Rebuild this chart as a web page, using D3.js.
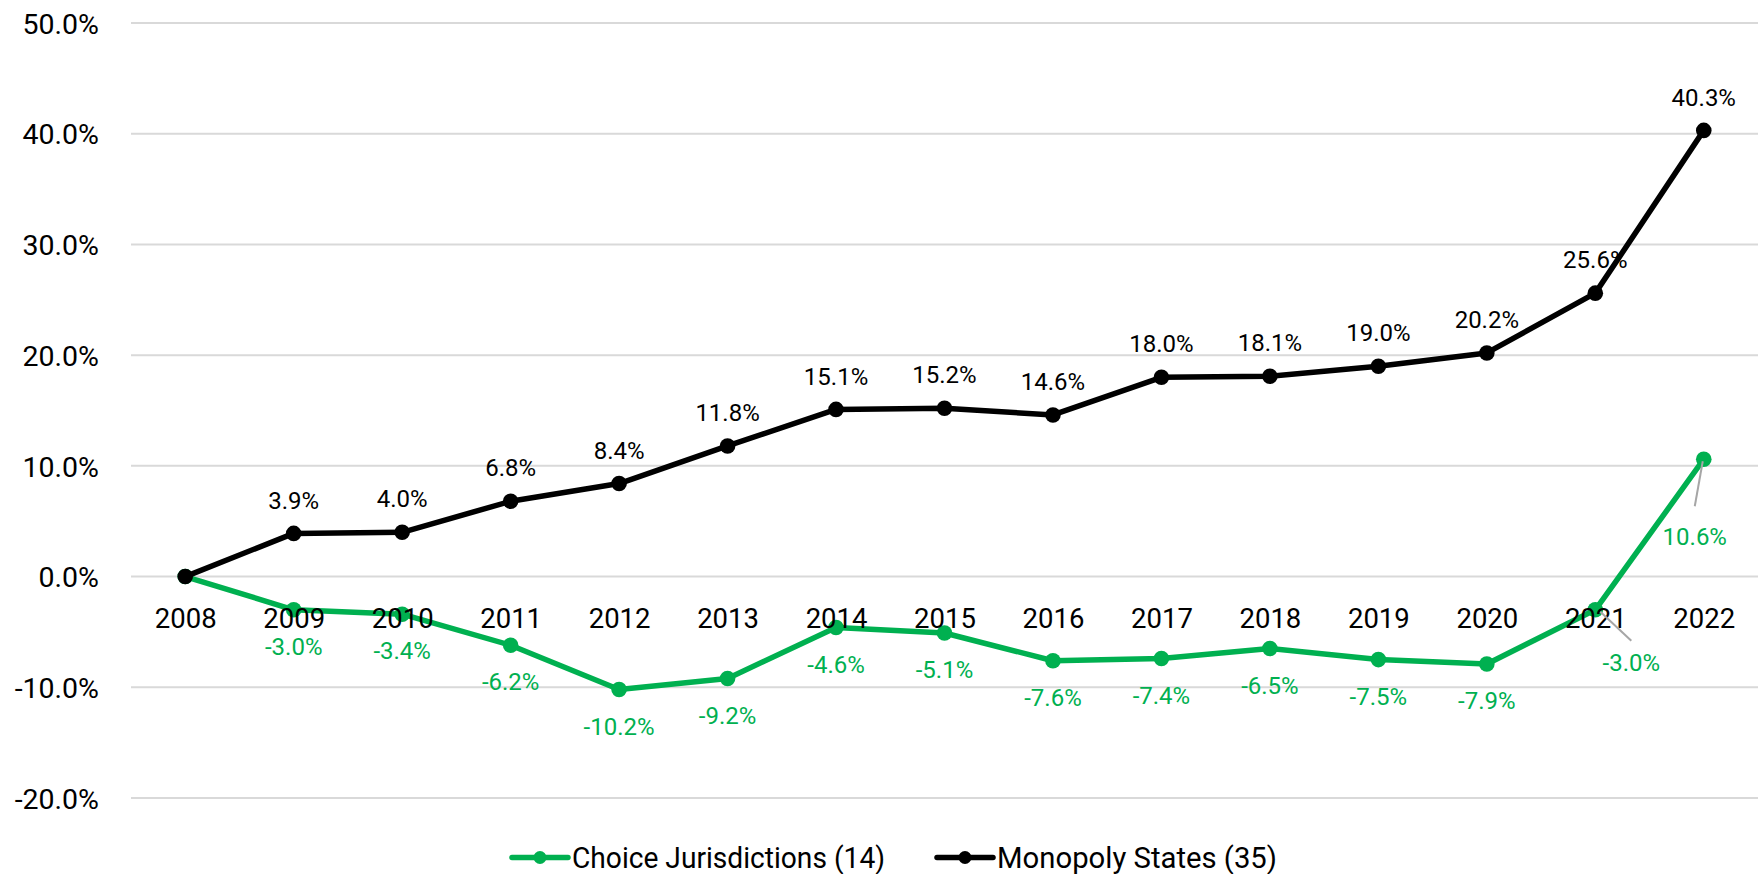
<!DOCTYPE html>
<html>
<head>
<meta charset="utf-8">
<script src="https://cdn.jsdelivr.net/npm/d3@7"></script>
<style>
  html, body { margin: 0; padding: 0; background: #fff; }
  svg { display: block; font-family: Roboto, "Noto Sans", sans-serif; }
</style>
</head>
<body>
<svg id="chart" width="1762" height="874"></svg>
<script>
// ---- data ----
const years = ["2008","2009","2010","2011","2012","2013","2014","2015","2016","2017","2018","2019","2020","2021","2022"];
const choiceValues = [0, -3.0, -3.4, -6.2, -10.2, -9.2, -4.6, -5.1, -7.6, -7.4, -6.5, -7.5, -7.9, -3.0, 10.6];
const monopolyValues = [0, 3.9, 4.0, 6.8, 8.4, 11.8, 15.1, 15.2, 14.6, 18.0, 18.1, 19.0, 20.2, 25.6, 40.3];
const yTicks = [-20, -10, 0, 10, 20, 30, 40, 50];
const seriesNames = ["Choice Jurisdictions (14)", "Monopoly States (35)"];

// ---- layout ----
const W = 1762, H = 874;
const plot = { left: 131, right: 1758, top: 23, bottom: 798 };
const GREEN = "#00B050", BLACK = "#000000";

const svg = d3.select("#chart");

const x = d3.scalePoint().domain(years).range([plot.left, plot.right]).padding(0.5);
const y = d3.scaleLinear().domain([-20, 50]).range([plot.bottom, plot.top]);
const locale = d3.formatLocale({ decimal: ".", thousands: ",", grouping: [3], currency: ["$", ""], minus: "-" });
const fmt = v => locale.format(".1f")(v) + "%";

// gridlines
svg.append("g").selectAll("line").data(yTicks).join("line")
  .attr("x1", plot.left).attr("x2", plot.right)
  .attr("y1", d => y(d)).attr("y2", d => y(d))
  .attr("stroke", "#d9d9d9").attr("stroke-width", 2);

// y axis
const yAxis = svg.append("g").attr("transform", `translate(${plot.left - 1},0)`)
  .call(d3.axisLeft(y).tickValues(yTicks).tickSize(0).tickPadding(31).tickFormat(fmt));
yAxis.select(".domain").remove();
yAxis.selectAll("text").attr("font-size", 28.5).attr("fill", "#000")
  .attr("font-family", "Roboto, 'Noto Sans', sans-serif").attr("dy", "0.36em");

// series
const series = [
  { name: seriesNames[0], values: choiceValues, color: GREEN },
  { name: seriesNames[1], values: monopolyValues, color: BLACK }
];

const line = d3.line().x((d, i) => x(years[i])).y(d => y(d));

series.forEach(s => {
  svg.append("path").datum(s.values)
    .attr("d", line).attr("fill", "none")
    .attr("stroke", s.color).attr("stroke-width", 5.5)
    .attr("stroke-linejoin", "round").attr("stroke-linecap", "round");
  svg.append("g").selectAll("circle").data(s.values).join("circle")
    .attr("cx", (d, i) => x(years[i])).attr("cy", d => y(d))
    .attr("r", 7.8).attr("fill", s.color);
});

// x axis labels (drawn at zero line)
const xAxis = svg.append("g").attr("transform", `translate(0,${y(0)})`)
  .call(d3.axisBottom(x).tickSize(0));
xAxis.select(".domain").remove();
xAxis.selectAll("text").attr("font-size", 27.5).attr("fill", "#000")
  .attr("font-family", "Roboto, 'Noto Sans', sans-serif")
  .attr("y", 41.5).attr("dy", "0.36em");

// data labels
const customGreen = {
  "2021": { dx: 36, dy: 53, lead: [[5, 2], [36, 31]] },
  "2022": { dx: -9, dy: 77, lead: [[-1, 2], [-9, 47]] }
};
const labelG = svg.append("g").attr("font-size", 24).attr("text-anchor", "middle");

monopolyValues.forEach((v, i) => {
  if (i === 0) return;
  labelG.append("text")
    .attr("x", x(years[i])).attr("y", y(v) - 33.5).attr("dy", "0.36em")
    .attr("fill", BLACK).text(fmt(v));
});

choiceValues.forEach((v, i) => {
  if (i === 0) return;
  const px = x(years[i]), py = y(v);
  const c = customGreen[years[i]];
  if (c) {
    labelG.append("line")
      .attr("x1", px + c.lead[0][0]).attr("y1", py + c.lead[0][1])
      .attr("x2", px + c.lead[1][0]).attr("y2", py + c.lead[1][1])
      .attr("stroke", "#a6a6a6").attr("stroke-width", 2);
    labelG.append("text")
      .attr("x", px + c.dx).attr("y", py + c.dy).attr("dy", "0.36em")
      .attr("fill", GREEN).text(fmt(v));
  } else {
    labelG.append("text")
      .attr("x", px).attr("y", py + 36.5).attr("dy", "0.36em")
      .attr("fill", GREEN).text(fmt(v));
  }
});

// legend
const legendY = 857.5;
const legendItems = [
  { name: seriesNames[0], color: GREEN, x0: 512, textW: 313 },
  { name: seriesNames[1], color: BLACK, x0: 937, textW: 280 }
];
legendItems.forEach(it => {
  const g = svg.append("g");
  g.append("line").attr("x1", it.x0).attr("x2", it.x0 + 56)
    .attr("y1", legendY).attr("y2", legendY)
    .attr("stroke", it.color).attr("stroke-width", 5.5).attr("stroke-linecap", "round");
  g.append("circle").attr("cx", it.x0 + 28).attr("cy", legendY).attr("r", 6.5).attr("fill", it.color);
  g.append("text").attr("x", it.x0 + 60).attr("y", legendY).attr("dy", "0.36em")
    .attr("font-size", 30).attr("fill", "#000")
    .attr("textLength", it.textW).attr("lengthAdjust", "spacingAndGlyphs")
    .text(it.name);
});
</script>
</body>
</html>
